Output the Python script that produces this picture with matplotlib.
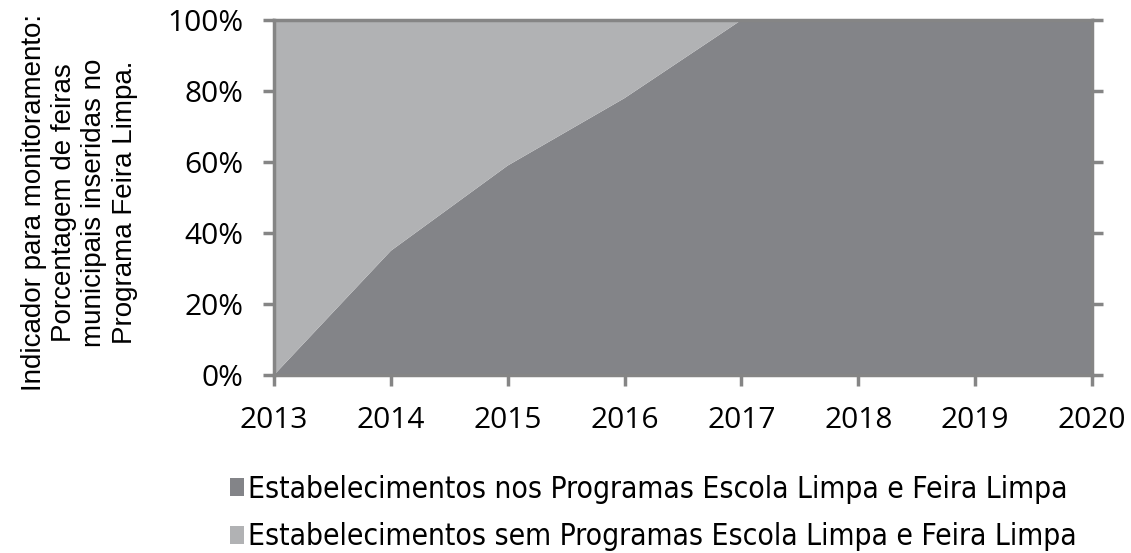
import matplotlib
matplotlib.use('Agg')
import matplotlib.pyplot as plt
from matplotlib.ticker import PercentFormatter
import matplotlib.font_manager as fm

years = [2013, 2014, 2015, 2016, 2017, 2018, 2019, 2020]
com_programa = [0, 35, 59, 78, 100, 100, 100, 100]
sem_programa = [100 - v for v in com_programa]
yticks = [0, 20, 40, 60, 80, 100]

lbl_com = 'Estabelecimentos nos Programas Escola Limpa e Feira Limpa'
lbl_sem = 'Estabelecimentos sem Programas Escola Limpa e Feira Limpa'
ylabel = ('Indicador para monitoramento:\nPorcentagem de feiras\n'
          'municipais inseridas no\nPrograma Feira Limpa.')

c_dark = '#838488'
c_light = '#b1b2b4'
c_axis = '#858585'

# narrow font for the legend, if one exists
narrow = [f for f in fm.fontManager.ttflist
          if f.stretch in ('condensed', 'semi-condensed', 'extra-condensed')
          and f.style == 'normal' and f.weight in (400, 'normal')]
leg_font = fm.FontProperties(fname=narrow[0].fname) if narrow else fm.FontProperties(family='Open Sans')
leg_font.set_size(21.5 if narrow else 19.5)

fig = plt.figure(figsize=(11.31, 5.53), dpi=100)
ax = fig.add_axes([0.2423, 0.3219, 0.7232, 0.6419])

ax.stackplot(years, com_programa, sem_programa, colors=[c_dark, c_light],
             labels=[lbl_com, lbl_sem], linewidth=0)
ax.set_xlim(2013, 2020)
ax.set_ylim(0, 100)
ax.set_xticks(years)
ax.set_yticks(yticks)
ax.yaxis.set_major_formatter(PercentFormatter(decimals=0))

for s in ax.spines.values():
    s.set_color(c_axis)
    s.set_linewidth(2.5)
ax.tick_params(axis='both', colors=c_axis, width=2.5, length=8,
               labelcolor='black', labelsize=21.5)
ax.tick_params(axis='y', right=True, pad=14)
ax.tick_params(axis='x', pad=14)
for t in ax.get_xticklabels() + ax.get_yticklabels():
    t.set_family('Open Sans')

fig.text(0.070, 0.634, ylabel, rotation=90, ha='center', va='center',
         fontsize=20, family='Liberation Sans', linespacing=1.22)

leg = fig.legend(loc='upper left', bbox_to_anchor=(0.18, 0.19),
                 frameon=False, handlelength=0.45,
                 handleheight=0.55, handletextpad=0.15, labelspacing=0.62,
                 prop=leg_font)

fig.savefig('out.png', dpi=100)
